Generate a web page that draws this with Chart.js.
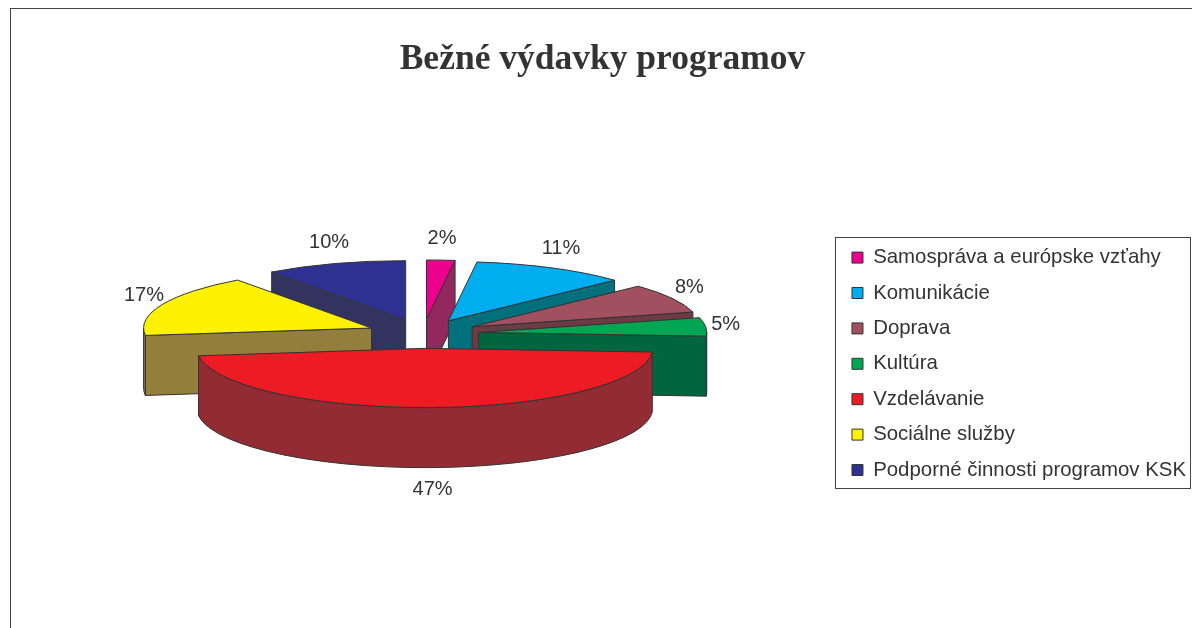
<!DOCTYPE html>
<html>
<head>
<meta charset="utf-8">
<title>Bežné výdavky programov</title>
<script src="https://cdn.jsdelivr.net/npm/chart.js@4.4.1/dist/chart.umd.min.js"></script>
<style>
  html, body { margin: 0; padding: 0; background: #fff; overflow: hidden; }
  .frame { position: absolute; left: 10px; top: 8px; width: 1400px; height: 900px; border: 1px solid #444; }
  .wrap { position: absolute; left: 0; top: 0; width: 1192px; height: 628px; }
</style>
</head>
<body>
<div class="frame"></div>
<div class="wrap"><canvas id="vydavkyChart"></canvas></div>
<script>
// data (percent of current spending)
const categories = [
    'Samospráva a európske vzťahy',
    'Komunikácie',
    'Doprava',
    'Kultúra',
    'Vzdelávanie',
    'Sociálne služby',
    'Podporné činnosti programov KSK'
];
const shares = [2, 11, 8, 5, 47, 17, 10];

// top face colours and the darker side walls
const topColors = ['#EC008C', '#00AEEF', '#A0505F', '#00A651', '#ED1C24', '#FFF200', '#2E3192'];
const sideColors = ['#93285E', '#00707C', '#6D3A45', '#00663F', '#932C32', '#937E3C', '#33335F'];

const TILT = 0.26;   // vertical squash of the pie plane
const DEPTH = 60;    // height of the extruded pie

// draws the pie arcs as a tilted, extruded (3D look) pie
const pie3d = {
    id: 'pie3d',
    beforeDatasetsDraw(chart) {
        const ctx = chart.ctx;
        const meta = chart.getDatasetMeta(0);
        const slices = meta.data.map((arc, i) => {
            const p = arc.getProps(['x', 'y', 'startAngle', 'endAngle', 'outerRadius']);
            const mid = (p.startAngle + p.endAngle) / 2;
            const off = arc.options.offset || 0;
            return {
                i: i,
                s: p.startAngle,
                e: p.endAngle,
                mid: mid,
                r: p.outerRadius,
                vx: p.x + Math.cos(mid) * off,
                vy: p.y - DEPTH / 2 + Math.sin(mid) * off * TILT
            };
        });

        ctx.save();
        ctx.lineWidth = 1;
        ctx.strokeStyle = '#333';
        ctx.lineJoin = 'round';

        const wall = (sl, a) => {
            const rx = sl.vx + sl.r * Math.cos(a);
            const ry = sl.vy + sl.r * TILT * Math.sin(a);
            ctx.beginPath();
            ctx.moveTo(sl.vx, sl.vy);
            ctx.lineTo(rx, ry);
            ctx.lineTo(rx, ry + DEPTH);
            ctx.lineTo(sl.vx, sl.vy + DEPTH);
            ctx.closePath();
            ctx.fill();
            ctx.stroke();
        };
        const rim = (sl, a1, a2) => {
            ctx.beginPath();
            ctx.ellipse(sl.vx, sl.vy, sl.r, sl.r * TILT, 0, a1, a2);
            ctx.ellipse(sl.vx, sl.vy + DEPTH, sl.r, sl.r * TILT, 0, a2, a1, true);
            ctx.closePath();
            ctx.fill();
            ctx.stroke();
        };

        // back slices first
        const order = slices.slice().sort((a, b) => Math.sin(a.mid) - Math.sin(b.mid));
        order.forEach(sl => {
            ctx.fillStyle = sideColors[sl.i];
            if (Math.cos(sl.s) < 0) wall(sl, sl.s);
            if (Math.cos(sl.e) > 0) wall(sl, sl.e);
            for (let k = -1; k <= 1; k++) {
                const lo = Math.max(sl.s, 2 * Math.PI * k);
                const hi = Math.min(sl.e, 2 * Math.PI * k + Math.PI);
                if (hi > lo) rim(sl, lo, hi);
            }
            ctx.fillStyle = topColors[sl.i];
            ctx.beginPath();
            ctx.moveTo(sl.vx, sl.vy);
            ctx.ellipse(sl.vx, sl.vy, sl.r, sl.r * TILT, 0, sl.s, sl.e);
            ctx.closePath();
            ctx.fill();
            ctx.stroke();
        });

        // percentage labels
        ctx.fillStyle = '#333';
        ctx.font = '20px "Liberation Sans", Arial, sans-serif';
        ctx.textAlign = 'center';
        ctx.textBaseline = 'middle';
        slices.forEach(sl => {
            const c = Math.cos(sl.mid), s = Math.sin(sl.mid);
            const ax = sl.vx + sl.r * c;
            const ay = sl.vy + sl.r * TILT * s + (s > 0 ? DEPTH : 0);
            ctx.fillText(shares[sl.i] + '%', ax + c * 20, ay + s * 22);
        });
        ctx.restore();
        return false;
    }
};

// frame around the legend
const legendFrame = {
    id: 'legendFrame',
    afterDraw(chart) {
        const lg = chart.legend;
        const hb = lg.legendHitBoxes;
        if (!hb || !hb.length) return;
        const first = hb[0], last = hb[hb.length - 1];
        const x1 = Math.round(first.left - 17) + 0.5;
        const y1 = Math.round(first.top - 10) + 0.5;
        const x2 = Math.round(Math.min(lg.right - 4, chart.width - 2)) + 0.5;
        const y2 = Math.round(last.top + last.height + 8) + 0.5;
        const ctx = chart.ctx;
        ctx.save();
        ctx.strokeStyle = '#444';
        ctx.lineWidth = 1;
        ctx.strokeRect(x1, y1, x2 - x1, y2 - y1);
        ctx.restore();
    }
};

const vydavkyChart = new Chart(document.getElementById('vydavkyChart'), {
    type: 'pie',
    data: {
        labels: categories,
        datasets: [{
            data: shares,
            backgroundColor: topColors,
            borderColor: '#333',
            borderWidth: 1,
            radius: 228,
            offset: 56
        }]
    },
    options: {
        responsive: true,
        maintainAspectRatio: false,
        animation: false,
        events: [],
        layout: {
            padding: { left: 9, right: -4, top: 0, bottom: 10 }
        },
        plugins: {
            title: {
                display: true,
                text: 'Bežné výdavky programov',
                color: '#333',
                font: { family: '"Liberation Serif", "Times New Roman", serif', size: 35.5, weight: 'bold' },
                padding: { top: 39, bottom: 28 }
            },
            legend: {
                position: 'right',
                fullSize: false,
                labels: {
                    boxWidth: 11,
                    boxHeight: 11,
                    padding: 15,
                    color: '#333',
                    font: { family: '"Liberation Sans", Arial, sans-serif', size: 20.4 }
                }
            },
            tooltip: { enabled: false }
        }
    },
    plugins: [pie3d, legendFrame]
});
</script>
</body>
</html>
